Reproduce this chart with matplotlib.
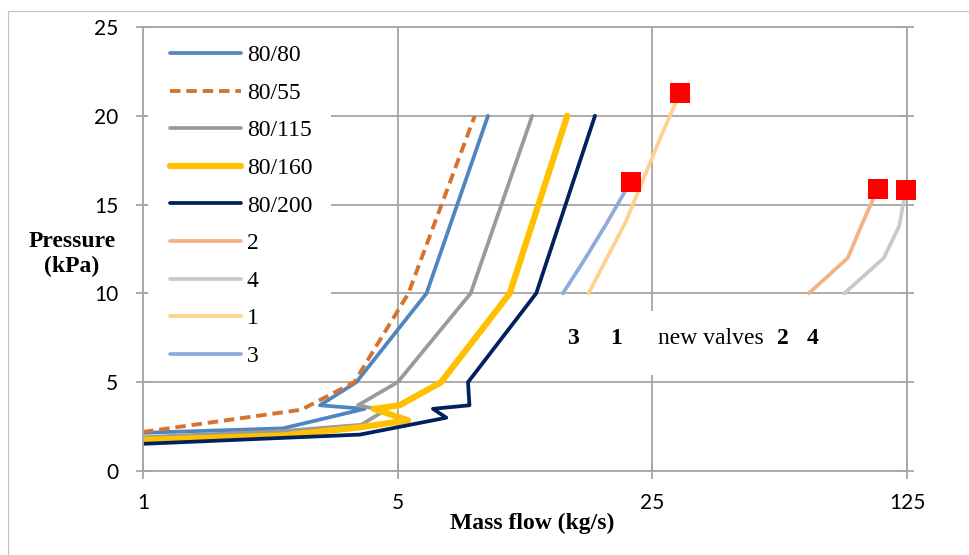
import matplotlib
matplotlib.use('Agg')
import matplotlib.pyplot as plt
from matplotlib.patches import Rectangle
from matplotlib.ticker import NullLocator
from matplotlib.font_manager import FontProperties

plt.rcParams['font.family'] = 'Lato'

# Pressure (kPa) vs mass flow (kg/s) for the old valves
m_80_80 = [1.0, 2.42, 4.06, 3.06, 3.85, 6.0, 8.85]
p_80_80 = [2.15, 2.4, 3.5, 3.7, 5.0, 10.0, 20.0]

m_80_55 = [1.0, 2.72, 3.8, 5.35, 8.14]
p_80_55 = [2.2, 3.45, 5.0, 10.0, 20.0]

m_80_115 = [1.0, 2.42, 3.97, 4.6, 3.89, 5.0, 7.93, 11.7]
p_80_115 = [1.9, 2.25, 2.6, 3.4, 3.7, 5.0, 10.0, 20.0]

m_80_160 = [1.0, 2.42, 3.9, 5.34, 4.3, 5.06, 6.58, 10.15, 14.6]
p_80_160 = [1.75, 2.0, 2.45, 2.85, 3.5, 3.7, 5.0, 10.0, 20.0]

m_80_200 = [1.0, 3.94, 6.8, 6.25, 7.87, 7.8, 12.0, 17.4]
p_80_200 = [1.53, 2.05, 3.0, 3.5, 3.7, 5.0, 10.0, 20.0]

# new valves
m_v2 = [67.2, 86.0, 94.5, 104.0]
p_v2 = [10.0, 12.0, 14.0, 15.9]
m_v4 = [84.1, 108.0, 119.0, 124.0]
p_v4 = [10.0, 12.0, 13.8, 15.8]
m_v1 = [16.7, 21.1, 26.6, 29.8]
p_v1 = [10.0, 14.0, 19.0, 21.3]
m_v3 = [14.2, 16.4, 18.8, 21.8]
p_v3 = [10.0, 12.0, 14.0, 16.3]

x_ticks = [1, 5, 25, 125]
y_ticks = [0, 5, 10, 15, 20, 25]

GRID = '#A6A6A6'
SERIF = 'Liberation Serif'

fig = plt.figure(figsize=(9.69, 5.55), dpi=100)
ax = fig.add_axes([143 / 969, 1 - 471 / 555, 764 / 969, 444 / 555])

series = [
    ('80/80', m_80_80, p_80_80, dict(color='#4F86C0', lw=2.7)),
    ('80/55', m_80_55, p_80_55, dict(color='#D8732F', lw=2.8, dashes=(2.7, 1.5))),
    ('80/115', m_80_115, p_80_115, dict(color='#9A9A9A', lw=2.7)),
    ('80/160', m_80_160, p_80_160, dict(color='#FFC000', lw=4.5)),
    ('80/200', m_80_200, p_80_200, dict(color='#002060', lw=2.7)),
    ('2', m_v2, p_v2, dict(color='#F4B183', lw=2.7)),
    ('4', m_v4, p_v4, dict(color='#C9C9C9', lw=2.7)),
    ('1', m_v1, p_v1, dict(color='#FFD18C', lw=2.7)),
    ('3', m_v3, p_v3, dict(color='#8FAADC', lw=2.7)),
]

handles = []
for name, m, p, style in series:
    line, = ax.plot(m, p, label=name, solid_capstyle='round', zorder=2, **style)
    handles.append(line)

# red squares at the end of the new valve curves
for m, p in [(m_v1, p_v1), (m_v3, p_v3), (m_v2, p_v2), (m_v4, p_v4)]:
    ax.plot(m[-1], p[-1], 's', color='#FF0000', markersize=13.7, markeredgewidth=0,
            zorder=3, clip_on=False)

ax.set_xscale('log', base=5)
ax.set_xlim(1, 125)
ax.set_ylim(0, 25)
ax.set_xticks(x_ticks)
ax.set_xticklabels([str(t) for t in x_ticks])
ax.set_yticks(y_ticks)
ax.xaxis.set_minor_locator(NullLocator())
ax.yaxis.set_minor_locator(NullLocator())

ax.grid(True, color=GRID, lw=1.3)
ax.set_axisbelow(True)
for s in ax.spines.values():
    s.set_color(GRID)
    s.set_linewidth(1.3)

ax.tick_params(axis='y', left=True, right=True, direction='inout', length=9.4,
               width=1.3, color=GRID, pad=13, labelsize=15)
ax.tick_params(axis='x', bottom=True, top=False, direction='inout', length=11.5,
               width=1.3, color=GRID, pad=10, labelsize=15)

ax.set_ylabel('Pressure\n(kPa)', rotation=0, fontfamily=SERIF, fontweight='bold',
              fontsize=17, ha='center', va='center')
ax.yaxis.set_label_coords(-0.093, 0.489)
ax.set_xlabel('Mass flow (kg/s)', fontfamily=SERIF, fontweight='bold', fontsize=17, va='center')
ax.xaxis.set_label_coords(0.509, -0.119)

# white background behind legend and the text note
ax.add_patch(Rectangle((0.0065, 0.214), 0.24, 0.779, transform=ax.transAxes,
                       fc='white', ec='none', zorder=1))
ax.add_patch(Rectangle((0.539, 0.216), 0.36, 0.144, transform=ax.transAxes,
                       fc='white', ec='none', zorder=1))

ax.legend(handles=handles, loc='upper left', bbox_to_anchor=(0.0353, 0.96),
          frameon=False, borderpad=0, borderaxespad=0, handlelength=3,
          handletextpad=0.25, labelspacing=0.68,
          prop=FontProperties(family=SERIF, size=17))

note = [(0.563, '3', 'bold'), (0.619, '1', 'bold'), (0.743, 'new valves', 'normal'),
        (0.838, '2', 'bold'), (0.877, '4', 'bold')]
for xf, txt, w in note:
    ax.text(xf, 0.2995, txt, transform=ax.transAxes, ha='center', va='center',
            fontfamily=SERIF, fontweight=w, fontsize=17, zorder=4)

# thin outer chart border
fig.patches.append(Rectangle((8 / 969, -0.05), 1.1, 1 - 11 / 555 + 0.05,
                             transform=fig.transFigure, fill=False,
                             ec='#BFBFBF', lw=0.8))

fig.savefig('out.png', dpi=100)
